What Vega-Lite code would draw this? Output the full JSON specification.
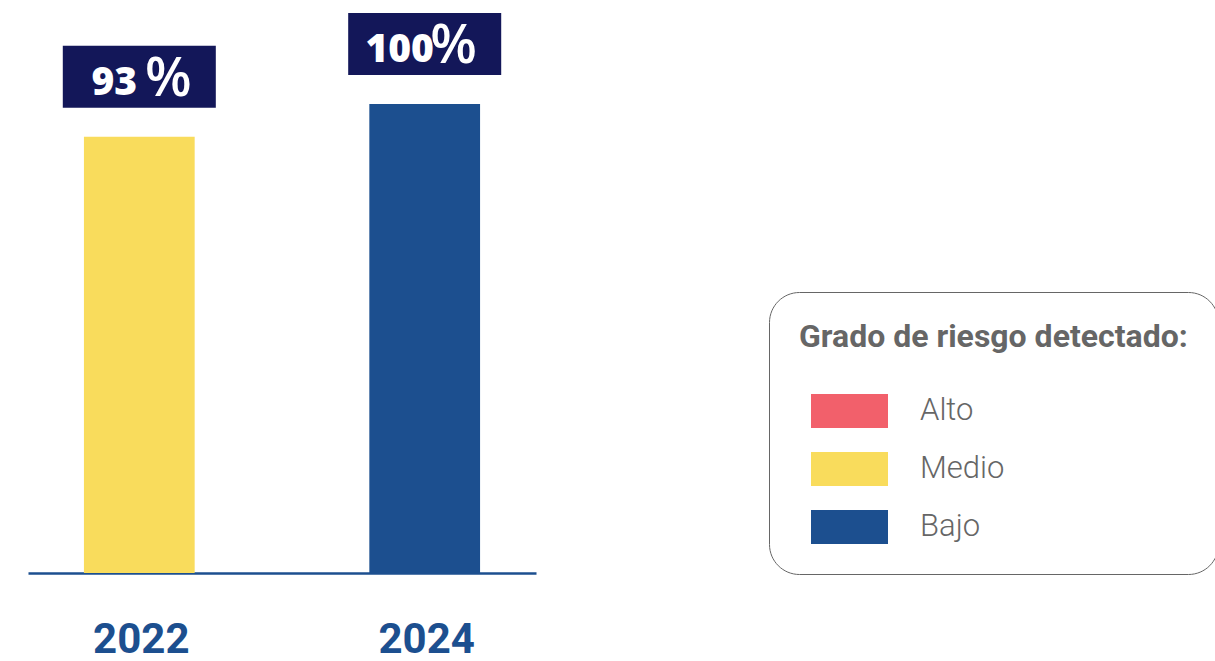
{
  "$schema": "https://vega.github.io/schema/vega-lite/v6.json",
  "autosize": "none",
  "padding": {"left": 28, "top": 104, "right": 679, "bottom": 88},
  "width": 508,
  "height": 469,
  "background": "white",
  "config": {"view": {"stroke": null}},
  "data": {"values": [
    {"anio": "2022", "valor": 93, "num": "93", "pct": "%", "grado": "Medio"},
    {"anio": "2024", "valor": 100, "num": "100", "pct": "%", "grado": "Bajo"}
  ]},
  "encoding": {
    "x": {"field": "anio", "type": "nominal", "scale": {"paddingInner": 0.612, "paddingOuter": 0.196},
      "axis": {"title": null, "labelAngle": 0, "ticks": false, "tickSize": 0, "labelFont": "Roboto", "labelFontSize": 42, "labelFontWeight": "bold", "labelColor": "#1c4f8f", "labelBaseline": "alphabetic", "labelPadding": 79, "labelOffset": 2, "domainColor": "#1c4f8f", "domainWidth": 2.5, "grid": false}},
    "y": {"field": "valor", "type": "quantitative", "scale": {"domain": [0, 100], "nice": false}, "axis": null}
  },
  "layer": [
    {
      "mark": {"type": "bar"},
      "encoding": {
        "color": {"field": "grado", "type": "nominal",
          "scale": {"domain": ["Alto", "Medio", "Bajo"], "range": ["#f2606b", "#f9dc5c", "#1c4f8f"]},
          "legend": {
            "orient": "none", "legendX": 741, "legendY": 188,
            "title": "Grado de riesgo detectado:", "titleLimit": 1000,
            "titleFont": "Roboto", "titleFontSize": 32, "titleFontWeight": "bold", "titleColor": "#666666", "titlePadding": 40,
            "labelFont": "Roboto", "labelFontSize": 31, "labelFontWeight": 300, "labelColor": "#666666", "labelOffset": 32,
            "symbolType": "M-1,-0.4416H1V0.4416H-1Z", "symbolSize": 5929, "symbolStrokeWidth": 0, "symbolOpacity": 1,
            "clipHeight": 34, "rowPadding": 24,
            "padding": 30, "symbolOffset": 12,
            "strokeColor": "#666666", "cornerRadius": 30, "fillColor": "white"
          }
        }
      }
    },
    {
      "mark": {"type": "point", "filled": true, "opacity": 1, "color": "#131759", "shape": "M-1.234,-0.5H1.234V0.5H-1.234Z", "size": 15376, "yOffset": -60, "strokeWidth": 0}
    },
    {
      "mark": {"type": "text", "color": "white", "font": "Open Sans", "fontWeight": 800, "fontSize": 39, "baseline": "alphabetic", "align": "center", "dx": -25, "dy": -42},
      "encoding": {"text": {"field": "num"}}
    },
    {
      "mark": {"type": "text", "color": "white", "font": "Open Sans", "fontWeight": 600, "fontSize": 54, "baseline": "alphabetic", "align": "center", "dx": 29, "dy": -41},
      "encoding": {"text": {"field": "pct"}}
    }
  ]
}
